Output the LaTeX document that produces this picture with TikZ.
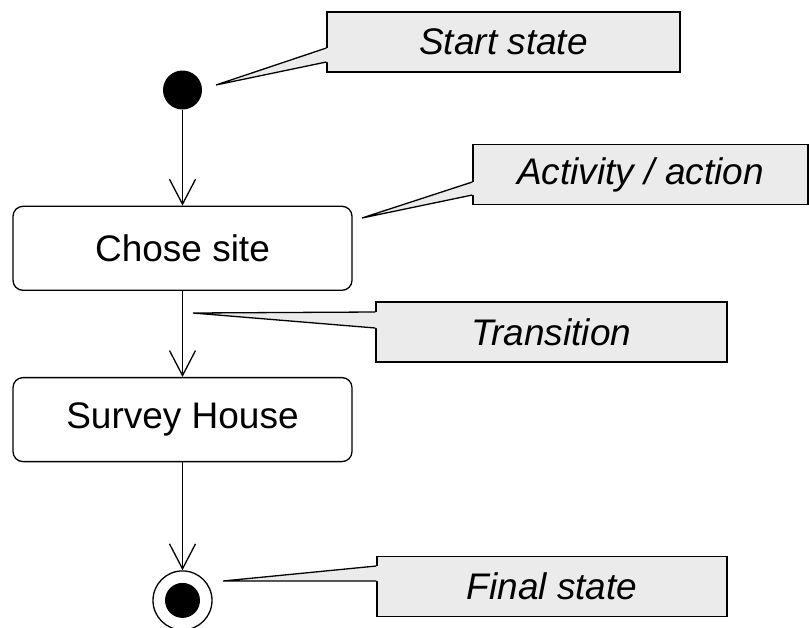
\documentclass[tikz,border=0pt]{standalone}
\usepackage{fontspec}
\setmainfont{Liberation Sans}
\usetikzlibrary{positioning, arrows.meta, calc}
\definecolor{notegray}{HTML}{EBEBEB}

\begin{document}
\begin{tikzpicture}[x=1pt, y=-1pt, line width=1.3pt,
  every node/.style={font=\fontsize{37}{44}\selectfont},
  activity/.style={draw, rounded corners=10pt, minimum width=339pt, minimum height=84pt},
  note/.style={draw, fill=notegray, minimum height=60pt, font=\fontsize{37}{44}\selectfont\itshape},
  flow/.style={-{Straight Barb[length=25pt, width=26pt]}}]
\useasboundingbox (0,0) rectangle (809,627);
% states and activities
\node[circle, fill=black, minimum size=39pt, inner sep=0pt] (start) at (182.5,90) {};
\node[activity, below=95.5pt of start] (chose) {Chose site};
\node[activity, below=86pt of chose] (survey) {Survey House};
\node[circle, draw, minimum size=59pt, inner sep=0pt, below=108pt of survey] (final) {};
\fill (final.center) circle (17.5);
% transitions
\draw[flow] (start) -- (chose);
\draw[flow] (chose) -- (survey);
\draw[flow] (survey) -- (final);
% notes
\node[note, minimum width=353pt] (nstart) at (503.5,42) {Start state};
\node[note, minimum width=335pt] (naction) at (640.5,174.5) {Activity / action};
\node[note, minimum width=351pt] (ntrans) at (551.5,332) {Transition};
\node[note, minimum width=350pt] (nfinal) at (552,586.5) {Final state};
\coordinate (tstart) at (216,85);
\coordinate (taction) at (362,218);
\coordinate (ttrans) at (193,313);
\coordinate (tfinal) at (223,581);
% pointers
\fill[notegray] (tstart) -- ($(nstart.west)+(0,6)$) -- ($(nstart.west)+(2,6)$) -- ($(nstart.west)+(2,20)$) -- ($(nstart.west)+(0,20)$) -- cycle;
\draw ($(nstart.west)+(0,6)$) -- (tstart) -- ($(nstart.west)+(0,20)$);
\fill[notegray] (taction) -- ($(naction.west)+(0,7.5)$) -- ($(naction.west)+(2,7.5)$) -- ($(naction.west)+(2,20.5)$) -- ($(naction.west)+(0,20.5)$) -- cycle;
\draw ($(naction.west)+(0,7.5)$) -- (taction) -- ($(naction.west)+(0,20.5)$);
\fill[notegray] (ttrans) -- ($(ntrans.west)+(0,-20)$) -- ($(ntrans.west)+(2,-20)$) -- ($(ntrans.west)+(2,-4)$) -- ($(ntrans.west)+(0,-4)$) -- cycle;
\draw ($(ntrans.west)+(0,-20)$) -- (ttrans) -- ($(ntrans.west)+(0,-4)$);
\fill[notegray] (tfinal) -- ($(nfinal.west)+(0,-20.5)$) -- ($(nfinal.west)+(2,-20.5)$) -- ($(nfinal.west)+(2,-5.5)$) -- ($(nfinal.west)+(0,-5.5)$) -- cycle;
\draw ($(nfinal.west)+(0,-20.5)$) -- (tfinal) -- ($(nfinal.west)+(0,-5.5)$);
\end{tikzpicture}
\end{document}
